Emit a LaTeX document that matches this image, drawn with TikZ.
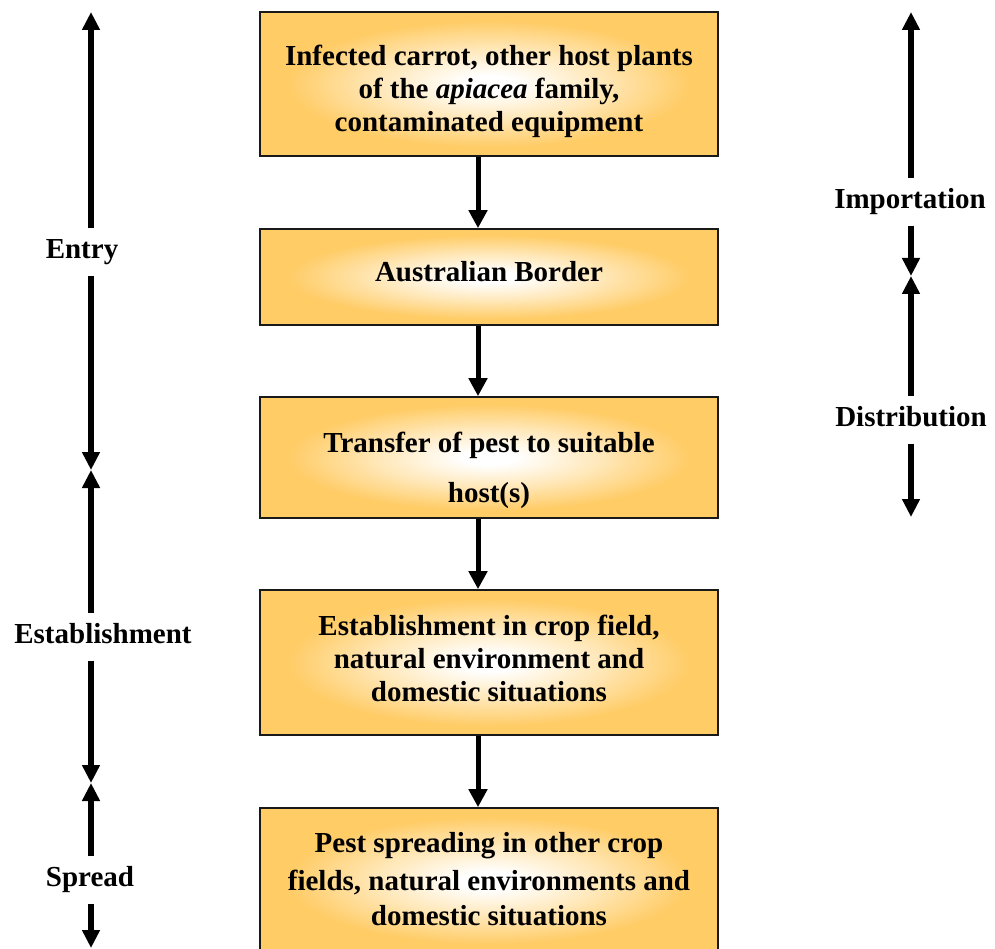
\documentclass[tikz,border=0pt]{standalone}
\usepackage{fontspec}
\setmainfont{Liberation Serif}
\usetikzlibrary{arrows.meta,calc}

\definecolor{boxorange}{RGB}{255,204,102}
\definecolor{boxline}{RGB}{25,25,25}
\pgfdeclareradialshading{boxglow}{\pgfpoint{0bp}{0bp}}{%
  color(0bp)=(white); color(3bp)=(white); color(12bp)=(boxorange!45);
  color(22bp)=(boxorange); color(50bp)=(boxorange)}

\tikzset{
  stagebox/.style={draw=boxline, line width=1.6pt, shading=boxglow,
    minimum width=458pt, inner sep=0pt},
  % anchored at the baseline of the last line
  boxtext/.style={font=\bfseries\fontsize{29}{34}\selectfont, align=center,
    anchor=base, inner sep=0pt},
  phase/.style={font=\bfseries\fontsize{29}{34}\selectfont, anchor=base,
    text height=20pt, text depth=7pt, inner xsep=0pt, inner ysep=10pt},
  flow/.style={line width=5pt, -{Triangle[length=18pt,width=18pt]}},
  span/.style={line width=5.5pt, -{Triangle[length=18pt,width=17pt]}},
}

\begin{document}
\begin{tikzpicture}[x=1pt,y=-1pt]
\useasboundingbox (0,0) rectangle (995,949);
\clip (0,0) rectangle (995,949);

% stage boxes
\node[stagebox, minimum height=144pt] (b1) at (489,84) {};
\node[stagebox, minimum height=96pt]  (b2) at (489,277) {};
\node[stagebox, minimum height=121pt] (b3) at (489,457.5) {};
\node[stagebox, minimum height=145pt] (b4) at (489,662.5) {};
\node[stagebox, minimum height=145pt] (b5) at (489,880.5) {};

% box texts
\node[boxtext] (t1) at (489,132) {Infected carrot, other host plants\\[-1pt]
  of the \textit{apiacea} family,\\[-1pt] contaminated equipment};
\node[boxtext] (t2) at (489,282) {Australian Border};
\node[boxtext] (t3) at (489,502) {Transfer of pest to suitable\\[16pt] host(s)};
\node[boxtext] (t4) at (489,701.5) {Establishment in crop field,\\[-1pt]
  natural environment and\\[-1pt] domestic situations};
\node[boxtext] (t5) at (489,925) {Pest spreading in other crop\\[4pt]
  fields, natural environments and\\[1pt] domestic situations};

% flow connectors
\foreach \a/\b in {b1/b2, b2/b3, b3/b4, b4/b5}
  \draw[flow] ([xshift=-11pt]\a.south) -- ([xshift=-11pt]\b.north);

% left phase scale
\coordinate (L0) at (91,12);
\coordinate (L1) at (91,470);
\coordinate (L2) at (91,783);
\coordinate (L3) at (91,948);
\node[phase] (entry) at (82,258.5) {Entry};
\node[phase] (estab) at (103,643.5) {Establishment};
\node[phase] (spread) at (90,886.5) {Spread};
\draw[span] (entry.north -| L0) -- (L0);
\draw[span] (entry.south -| L0) -- (L1);
\draw[span] (estab.north -| L0) -- (L1);
\draw[span] (estab.south -| L0) -- (L2);
\draw[span] (spread.north -| L0) -- (L2);
\draw[span] (spread.south -| L0) -- (L3);

% right phase scale
\coordinate (R0) at (911,12);
\coordinate (R1) at (911,276);
\coordinate (R2) at (911,517);
\node[phase] (import) at (910,208.5) {Importation};
\node[phase] (distr) at (911,426.5) {Distribution};
\draw[span] (import.north -| R0) -- (R0);
\draw[span] (import.south -| R0) -- (R1);
\draw[span] (distr.north -| R0) -- (R1);
\draw[span] (distr.south -| R0) -- (R2);
\end{tikzpicture}
\end{document}
